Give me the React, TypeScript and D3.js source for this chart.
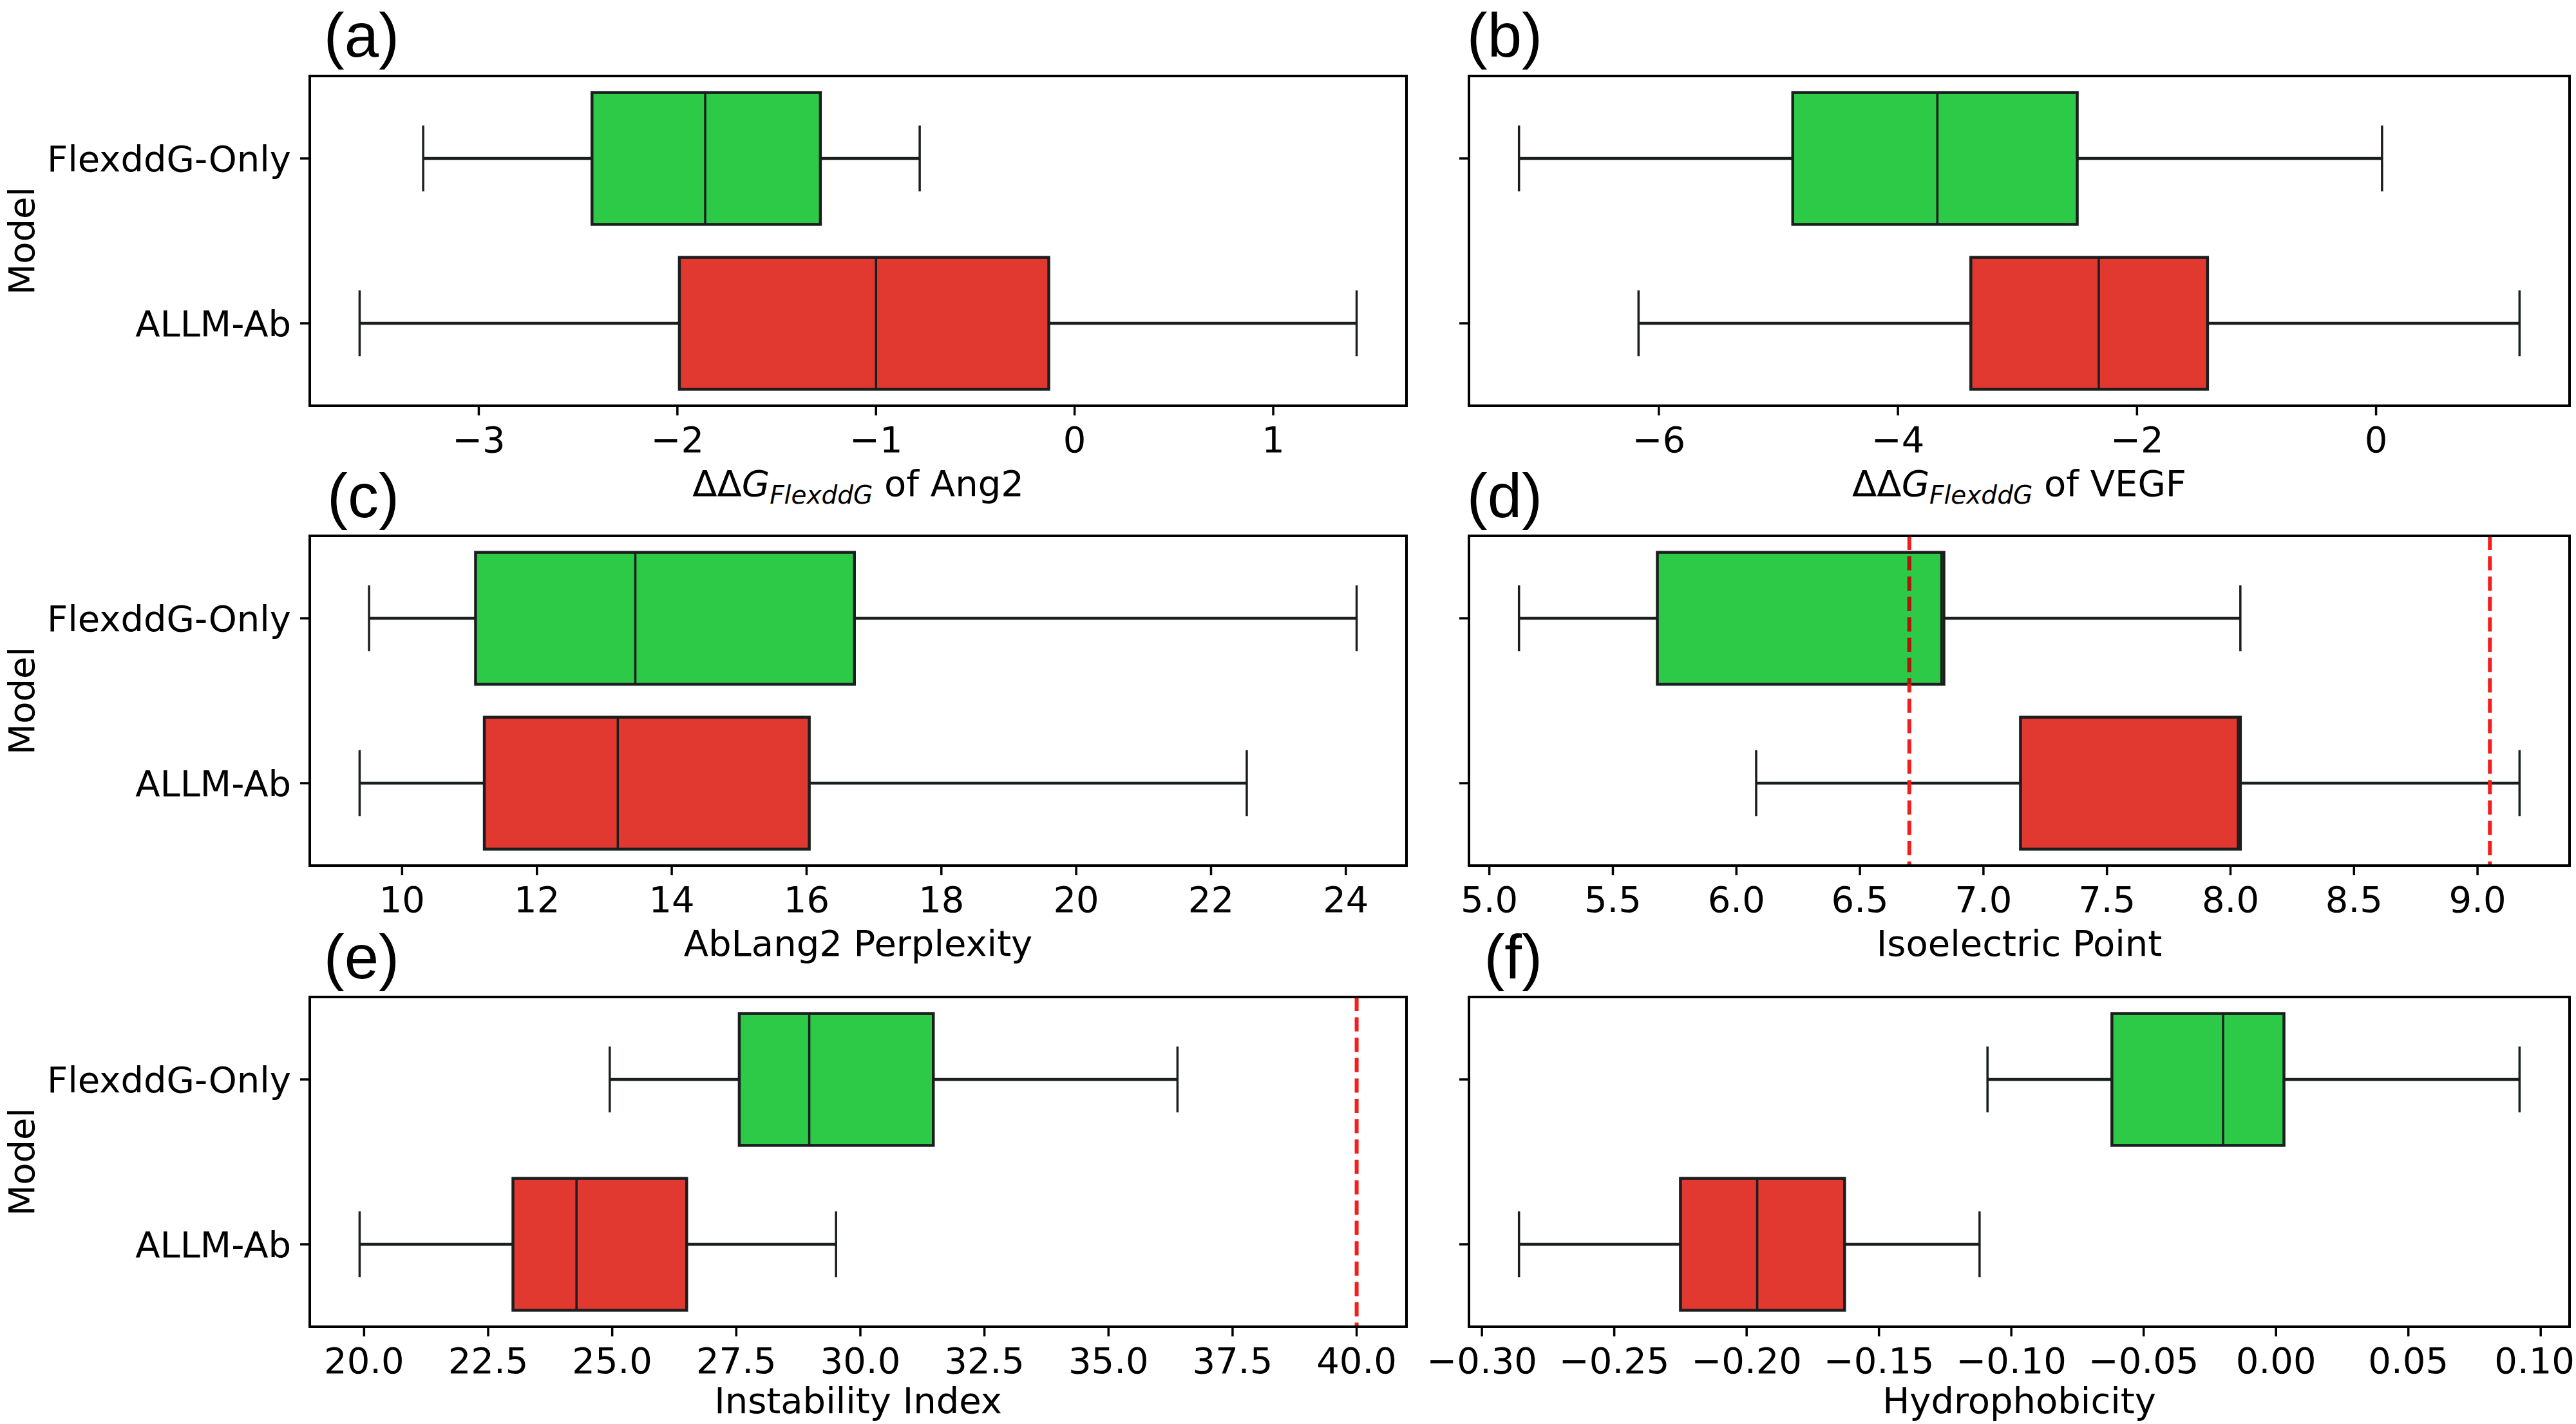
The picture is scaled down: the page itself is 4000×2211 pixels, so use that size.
import React, { useEffect, useRef } from 'react'
import * as d3 from 'd3'

const models = ['FlexddG-Only', 'ALLM-Ab']
const modelColors = ['#2dca48', '#e1382f']

// box summaries: lower whisker, Q1, median, Q3, upper whisker
const ang2Flex = [-3.28, -2.43, -1.86, -1.28, -0.78]
const ang2Allm = [-3.6, -1.99, -1.0, -0.13, 1.42]
const vegfFlex = [-7.17, -4.88, -3.67, -2.5, 0.05]
const vegfAllm = [-6.17, -3.39, -2.32, -1.41, 1.2]
const perplexityFlex = [9.51, 11.09, 13.46, 16.71, 24.16]
const perplexityAllm = [9.37, 11.22, 13.2, 16.04, 22.53]
const pIFlex = [5.12, 5.68, 6.83, 6.84, 8.04]
const pIAllm = [6.08, 7.15, 8.03, 8.04, 9.17]
const instabilityFlex = [24.95, 27.56, 28.97, 31.47, 36.39]
const instabilityAllm = [19.91, 23.0, 24.28, 26.5, 29.51]
const hydroFlex = [-0.109, -0.062, -0.02, 0.003, 0.092]
const hydroAllm = [-0.286, -0.225, -0.196, -0.163, -0.112]

// dashed threshold lines
const pIRefLines = [6.7, 9.05]
const instabilityRefLines = [40]

const ang2Ticks = [-3, -2, -1, 0, 1]
const vegfTicks = [-6, -4, -2, 0]
const perplexityTicks = [10, 12, 14, 16, 18, 20, 22, 24]
const pITicks = [5.0, 5.5, 6.0, 6.5, 7.0, 7.5, 8.0, 8.5, 9.0]
const instabilityTicks = [20, 22.5, 25, 27.5, 30, 32.5, 35, 37.5, 40]
const hydroTicks = [-0.3, -0.25, -0.2, -0.15, -0.1, -0.05, 0, 0.05, 0.1]

const panelTags = ['(a)', '(b)', '(c)', '(d)', '(e)', '(f)']
const axisTitles = ['ΔΔG|FlexddG| of Ang2', 'ΔΔG|FlexddG| of VEGF', 'AbLang2 Perplexity', 'Isoelectric Point', 'Instability Index', 'Hydrophobicity']

const panels = [
  { stats: [ang2Flex, ang2Allm], ticks: ang2Ticks, fmt: 'd', refs: [] as number[] },
  { stats: [vegfFlex, vegfAllm], ticks: vegfTicks, fmt: 'd', refs: [] as number[] },
  { stats: [perplexityFlex, perplexityAllm], ticks: perplexityTicks, fmt: 'd', refs: [] as number[] },
  { stats: [pIFlex, pIAllm], ticks: pITicks, fmt: '.1f', refs: pIRefLines },
  { stats: [instabilityFlex, instabilityAllm], ticks: instabilityTicks, fmt: '.1f', refs: instabilityRefLines },
  { stats: [hydroFlex, hydroAllm], ticks: hydroTicks, fmt: '.2f', refs: [] as number[] },
]

const W = 4000
const H = 2211
const colX = [[481, 2184], [2281, 3990]]
const rowY = [118, 832, 1548]
const panelH = 512
const titleGap = [140, 140, 134]
const tagRight = [620, 2395]
const tagBaseline = [88, 803, 1519]

const FONT = '"DejaVu Sans", sans-serif'
const INK = '#1a1e1e'

function App() {
  const svgRef = useRef<SVGSVGElement>(null)

  useEffect(() => {
    const svg = d3.select(svgRef.current)
    svg.selectAll('*').remove()

    panels.forEach((p, i) => {
      const col = i % 2
      const row = Math.floor(i / 2)
      const [x0, x1] = colX[col]
      const y0 = rowY[row]
      const y1 = y0 + panelH

      // matplotlib-style 5% margins around everything drawn
      const [lo, hi] = d3.extent([...p.stats.flat(), ...p.refs]) as [number, number]
      const pad = (hi - lo) * 0.05
      const x = d3.scaleLinear().domain([lo - pad, hi + pad]).range([x0, x1])
      const y = d3.scaleBand().domain(models).range([y0, y1]).paddingInner(0.2).paddingOuter(0.1)
      const bw = y.bandwidth()

      const g = svg.append('g')

      models.forEach((m, k) => {
        const [wLo, q1, med, q3, wHi] = p.stats[k]
        const cy = (y(m) as number) + bw / 2
        const capH = bw * 0.5

        g.append('line').attr('x1', x(wLo)).attr('x2', x(q1)).attr('y1', cy).attr('y2', cy)
          .attr('stroke', INK).attr('stroke-width', 4.5)
        g.append('line').attr('x1', x(q3)).attr('x2', x(wHi)).attr('y1', cy).attr('y2', cy)
          .attr('stroke', INK).attr('stroke-width', 4.5)
        ;[wLo, wHi].forEach(v => {
          g.append('line').attr('x1', x(v)).attr('x2', x(v))
            .attr('y1', cy - capH / 2).attr('y2', cy + capH / 2)
            .attr('stroke', INK).attr('stroke-width', 3.5)
        })
        g.append('rect')
          .attr('x', x(q1)).attr('y', y(m) as number)
          .attr('width', x(q3) - x(q1)).attr('height', bw)
          .attr('fill', modelColors[k]).attr('stroke', INK).attr('stroke-width', 4.5)
        g.append('line').attr('x1', x(med)).attr('x2', x(med))
          .attr('y1', y(m) as number).attr('y2', (y(m) as number) + bw)
          .attr('stroke', INK).attr('stroke-width', 3.5)
      })

      if (p.refs.length) {
        const clipId = `boxclip-${i}`
        const clip = g.append('clipPath').attr('id', clipId)
        models.forEach((m, k) => {
          const s = p.stats[k]
          clip.append('rect').attr('x', x(s[1])).attr('y', y(m) as number)
            .attr('width', x(s[3]) - x(s[1])).attr('height', bw)
        })
        p.refs.forEach(v => {
          g.append('line').attr('x1', x(v)).attr('x2', x(v)).attr('y1', y0).attr('y2', y1)
            .attr('stroke', '#f41c1c').attr('stroke-width', 6).attr('stroke-dasharray', '22 9.6')
          // darker where it crosses a filled box
          g.append('line').attr('x1', x(v)).attr('x2', x(v)).attr('y1', y0).attr('y2', y1)
            .attr('clip-path', `url(#${clipId})`)
            .attr('stroke', '#b01410').attr('stroke-width', 6).attr('stroke-dasharray', '22 9.6')
        })
      }

      // frame
      g.append('rect').attr('x', x0).attr('y', y0).attr('width', x1 - x0).attr('height', panelH)
        .attr('fill', 'none').attr('stroke', '#000').attr('stroke-width', 4)

      // x ticks; a label that would run past the page edge is nudged back in
      const fmt = d3.format(p.fmt)
      p.ticks.forEach(t => {
        g.append('line').attr('x1', x(t)).attr('x2', x(t)).attr('y1', y1).attr('y2', y1 + 15)
          .attr('stroke', '#000').attr('stroke-width', 3.5)
        const label = g.append('text').attr('x', x(t)).attr('y', y1 + 72)
          .attr('text-anchor', 'middle').attr('font-family', FONT).attr('font-size', 56)
          .text(fmt(t))
        const node = label.node() as SVGTextElement
        const half = node.getComputedTextLength() / 2
        if (x(t) + half > W - 2) label.attr('x', W - 2 - half)
      })

      // y ticks, labels only on the left column
      models.forEach(m => {
        const cy = (y(m) as number) + bw / 2
        g.append('line').attr('x1', x0 - 15).attr('x2', x0).attr('y1', cy).attr('y2', cy)
          .attr('stroke', '#000').attr('stroke-width', 3.5)
        if (col === 0) {
          g.append('text').attr('x', x0 - 29).attr('y', cy).attr('dy', '0.36em')
            .attr('text-anchor', 'end').attr('font-family', FONT).attr('font-size', 56)
            .text(m)
        }
      })

      if (col === 0) {
        g.append('text')
          .attr('transform', `translate(53,${(y0 + y1) / 2}) rotate(-90)`)
          .attr('text-anchor', 'middle').attr('font-family', FONT).attr('font-size', 56)
          .text('Model')
      }

      // x-axis title; |...| marks a mathtext subscript
      const title = g.append('text').attr('x', (x0 + x1) / 2).attr('y', y1 + titleGap[row])
        .attr('text-anchor', 'middle').attr('font-family', FONT).attr('font-size', 56)
      const parts = axisTitles[i].split('|')
      if (parts.length === 3) {
        title.append('tspan').text(parts[0].slice(0, -1))
        title.append('tspan').attr('font-style', 'italic').text(parts[0].slice(-1))
        title.append('tspan').attr('font-style', 'italic').attr('font-size', 39).attr('dy', 12).text(parts[1])
        title.append('tspan').attr('dy', -12).text(parts[2])
      } else {
        title.text(parts[0])
      }

      svg.append('text').attr('x', tagRight[col]).attr('y', tagBaseline[row])
        .attr('text-anchor', 'end').attr('font-family', '"Liberation Sans", Arial, sans-serif')
        .attr('font-size', 96).text(panelTags[i])
    })
  }, [])

  return (
    <svg ref={svgRef} width={W} height={H} viewBox={`0 0 ${W} ${H}`}
      style={{ position: 'absolute', left: 0, top: 0, background: '#fff' }} />
  )
}

export default App
